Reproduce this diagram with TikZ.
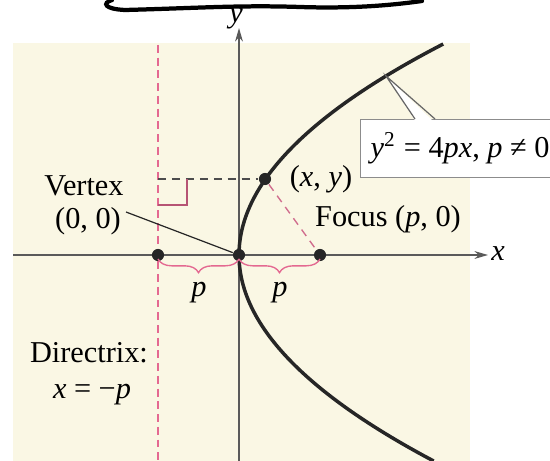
\documentclass[tikz,border=0pt]{standalone}
\usepackage{fontspec}
\setmainfont{Liberation Serif}
\usepackage{tikz}
\usetikzlibrary{arrows.meta, decorations.pathreplacing, calc}
\definecolor{paper}{RGB}{250,247,228}
\definecolor{pinkline}{RGB}{228,105,145}
\definecolor{axisgray}{RGB}{90,90,90}
\tikzset{
    axis/.style={-{Stealth[length=4.5pt, width=2.6pt]}, line width=0.45pt, draw=axisgray},
    curve/.style={line width=1.15pt, draw=black!85},
    dot/.style={circle, fill=black!85, inner sep=0pt, minimum size=4pt},
    directrix/.style={draw=pinkline, line width=0.45pt, dash pattern=on 2.6pt off 1.6pt},
    guide/.style={draw=black!70, line width=0.4pt, dash pattern=on 2.6pt off 2pt},
    focusline/.style={draw=pinkline!80!gray, line width=0.45pt, dash pattern=on 2.6pt off 2pt},
    rightangle/.style={draw=pinkline!80!black, line width=0.45pt},
    leader/.style={draw=black!85, line width=0.4pt},
    pbrace/.style={draw=pinkline, line width=0.45pt,
        decorate, decoration={brace, mirror, amplitude=4.5pt}},
    lbl/.style={font=\fontsize{10}{12}\selectfont, inner sep=0pt},
    eqbox/.style={rectangle, draw=black!45, fill=white, line width=0.4pt,
        minimum width=70pt, minimum height=19pt, font=\fontsize{10}{12}\selectfont},
    scribble/.style={line width=1.4pt, draw=black, line cap=round}
}
\begin{document}
\begin{tikzpicture}[x=0.33pt, y=-0.33pt]
    \useasboundingbox (0,0) rectangle (550,461);
    \fill[paper] (13,43) rectangle (470,461);
    % axes
    \coordinate (xl) at (13,255);
    \coordinate (xr) at (488,255);
    \coordinate (yb) at (239,461);
    \coordinate (yt) at (239,28);
    \draw[axis] (xl) -- (xr);
    \draw[axis] (yb) -- (yt);
    \node[lbl] (xlab) at (498,254) {\textit{x}};
    \node[lbl] (ylab) at (236,19) {\textit{y}};
    % directrix
    \coordinate (dtop) at (158,45);
    \coordinate (dbot) at (158,461);
    \draw[directrix] (dtop) -- (dbot);
    % parabola
    \draw[curve] plot[domain=-20.6:21.1, samples=90, smooth]
        ({239+\x*\x*0.4587}, {255-10*\x});
    % points
    \node[dot] (D) at (158,255) {};
    \node[dot] (V) at (239,255) {};
    \node[dot] (F) at (320,255) {};
    \node[dot] (P) at (265,179) {};
    \coordinate (Q) at (158,179);
    \draw[guide] (Q) -- (P);
    \draw[focusline] (P) -- (F);
    \draw[rightangle] (158,205) -- (187,205) -- (187,179);
    % braces
    \draw[pbrace] (158,259) -- (239,259);
    \draw[pbrace] (239,259) -- (320,259);
    \node[lbl] (p1) at (199,293) {\textit{p}};
    \node[lbl] (p2) at (280,293) {\textit{p}};
    % labels
    \node[lbl] (vlab1) at (84,186) {Vertex};
    \node[lbl] (vlab2) at (88,221) {(0, 0)};
    \coordinate (vlead) at (126,212);
    \draw[leader] (vlead) -- (V);
    \node[lbl] (plab) at (321,179) {(\textit{x}, \textit{y})};
    \node[lbl] (flab) at (388,219) {Focus (\textit{p}, 0)};
    \node[lbl] (dlab1) at (89,353) {Directrix:};
    \node[lbl] (dlab2) at (92,395) {\textit{x} = −\textit{p}};
    % equation callout
    \node[eqbox, anchor=north west] (eq) at (360,119)
        {\textit{y}\textsuperscript{2} = 4\textit{px}, \textit{p} ≠ 0\kern6pt};
    \coordinate (tip) at (386,76);
    \coordinate (wl) at (415,119);
    \coordinate (wr) at (435,119);
    \fill[white] ($(wl)+(1,3)$) -- (tip) -- ($(wr)+(-1,3)$) -- cycle;
    \draw[leader, draw=black!60] (wl) -- (tip) -- (wr);
    % scribble at top
    \draw[scribble] (112,0) .. controls (102,3) and (104,9) .. (125,10)
        .. controls (200,8) and (240,5) .. (300,7)
        .. controls (360,9) and (400,4) .. (422,1);
\end{tikzpicture}
\end{document}
